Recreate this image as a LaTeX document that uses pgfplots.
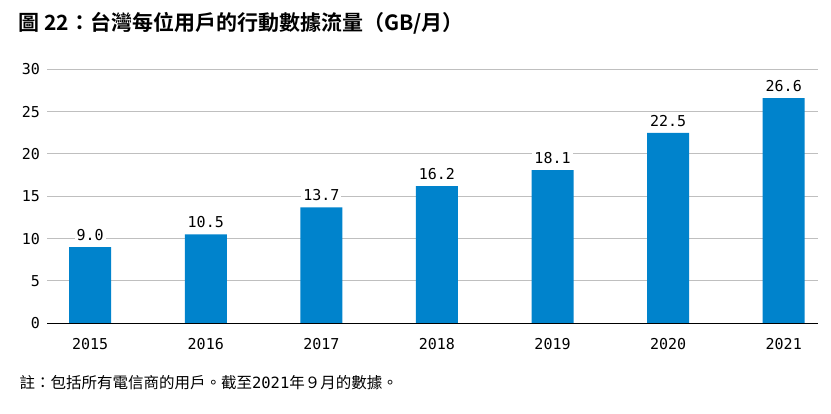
\documentclass[border=0pt]{standalone}
\usepackage{pgfplots}
\pgfplotsset{compat=1.18}
\usepackage{fontspec}
\setmainfont{DejaVu Sans Mono}
\newfontfamily\cjk{Noto Sans CJK TC}
\newfontfamily\cjkb{Noto Sans CJK TC Bold}
\definecolor{barblue}{HTML}{0083CC}
\definecolor{gridgray}{HTML}{BFBFBF}
\begin{document}
\begin{tikzpicture}[x=1pt,y=1pt]
\path (0,0) rectangle (831,413);
\begin{axis}[
  at={(41,106)}, anchor=south west,
  scale only axis, width=771pt, height=254pt,
  xmin=-0.37, xmax=6.3, ymin=0, ymax=30,
  ytick={0,5,...,30},
  xtick={0,...,6},
  xticklabels={2015,2016,2017,2018,2019,2020,2021},
  axis x line*=bottom, axis y line*=left,
  y axis line style={draw=none},
  x axis line style={-, black, line width=1pt},
  ymajorgrids, grid style={gridgray, line width=1pt},
  major tick length=0pt,
  tick label style={font=\fontsize{15}{15}\selectfont, text=black},
  /pgf/number format/assume math mode=true,
  yticklabel style={anchor=east, xshift=-4pt},
  xticklabel style={yshift=-12pt},
  ]
  \addplot[ybar, bar width=42pt, fill=barblue, draw=none,
    nodes near coords,
    nodes near coords style={font=\fontsize{15}{15}\selectfont, text=black, fill=white, inner sep=2pt, anchor=south, yshift=4pt,
      /pgf/number format/.cd, fixed, fixed zerofill, precision=1, assume math mode=true}]
    coordinates {(0,9.0) (1,10.5) (2,13.7) (3,16.2) (4,18.1) (5,22.5) (6,26.6)};
  \draw[black, line width=1pt] (axis cs:-0.37,0) -- (axis cs:6.3,0);
\end{axis}
\node[anchor=west, font=\cjkb\fontsize{21}{21}\selectfont] at (15,390) {圖 22：台灣每位用戶的行動數據流量（GB/月）};
\node[anchor=west, font=\fontsize{15.5}{15.5}\selectfont] at (16,30) {{\cjk 註：包括所有電信商的用戶。截至}2021{\cjk 年９月的數據。}};
\end{tikzpicture}
\end{document}
